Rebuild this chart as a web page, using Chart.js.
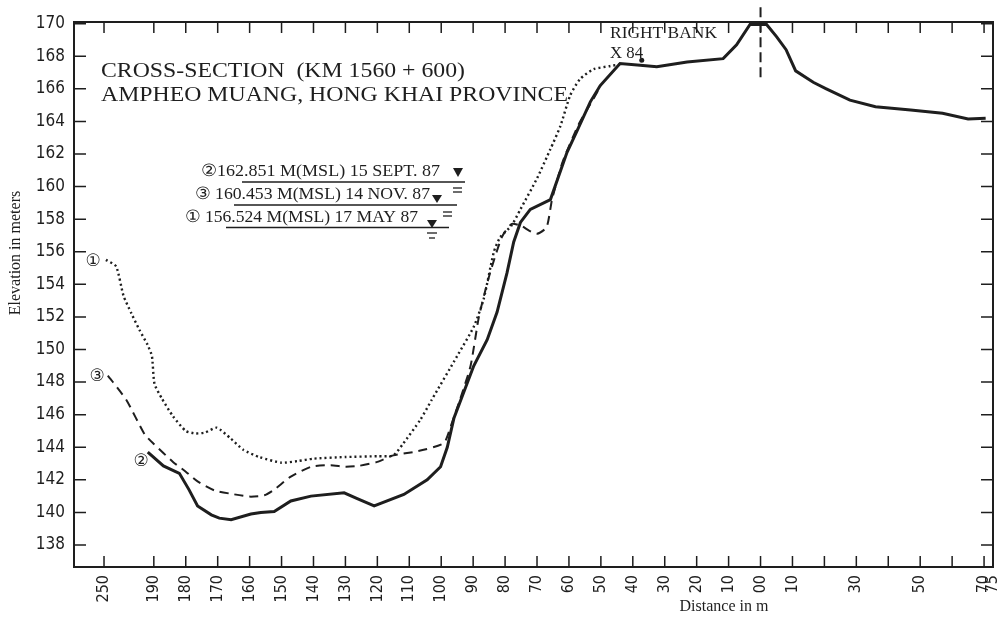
<!DOCTYPE html>
<html lang="en">
<head>
<meta charset="UTF-8">
<title>Cross-section KM 1560 + 600</title>
<script src="https://cdn.jsdelivr.net/npm/chart.js"></script>
<style>
  html, body { margin: 0; padding: 0; background: #fff; }
  #wrap { width: 1007px; height: 622px; }
</style>
</head>
<body>
<div id="wrap"><canvas id="myChart" width="1007" height="622"></canvas></div>
<script>
// distance coordinate: negative = left of the centre line (00), positive = right of it
// (the 250 m and 75 m stations sit squeezed at the ends, as on the original drawing)
const xTickPos    = [-205.6, -190, -180, -170, -160, -150, -140, -130, -120, -110, -100, -90, -80, -70, -60, -50, -40, -30, -20, -10, 0, 10, 20, 30, 40, 50, 60, 70, 72.8];
const xTickLabels = ['250','190','180','170','160','150','140','130','120','110','100','90','80','70','60','50','40','30','20','10','00','10','','30','','50','','70','75'];
const yTicks = [138, 140, 142, 144, 146, 148, 150, 152, 154, 156, 158, 160, 162, 164, 166, 168, 170];

// (1) 17 MAY 87 - dotted
const distMay = [-205, -201.8, -199.5, -197, -194.5, -192, -190.6, -189.8, -187.5, -184, -180, -177, -174, -170.3, -166, -162, -157, -150, -145, -140, -130, -120, -115, -112, -106.5, -103, -95, -89.8, -86.7, -83.5, -81.5, -78, -75.2, -70, -65.8, -62.7, -59.6, -56.5, -52.3, -47, -44];
const elevMay = [155.5, 155.1, 153.3, 152.2, 151.2, 150.3, 149.6, 147.9, 147.0, 145.9, 145.0, 144.85, 144.9, 145.2, 144.55, 143.85, 143.4, 143.05, 143.15, 143.3, 143.4, 143.45, 143.5, 144.2, 145.7, 146.9, 149.6, 151.4, 153.1, 156.0, 156.9, 157.6, 158.6, 160.5, 162.3, 163.7, 165.6, 166.6, 167.2, 167.4, 167.5];

// (3) 14 NOV 87 - dashed
const distNov = [-204.4, -198.6, -192.9, -190, -184, -180, -176.3, -171, -166, -160, -155.4, -152.3, -147.1, -140.8, -134.6, -130, -126, -120, -115, -107.5, -99.2, -97, -94, -90.8, -88.2, -85, -81, -78, -75, -72.5, -70, -67, -65.3, -62, -57, -52, -50];
const elevNov = [148.4, 146.9, 144.8, 144.2, 143.1, 142.5, 141.9, 141.35, 141.15, 140.97, 141.05, 141.4, 142.2, 142.8, 142.9, 142.8, 142.85, 143.1, 143.5, 143.75, 144.25, 145.3, 147.0, 149.0, 152.0, 154.5, 156.9, 157.7, 157.6, 157.3, 157.1, 157.5, 159.2, 161.5, 163.8, 165.5, 166.2];

// (2) 15 SEPT 87 - solid
const distSep = [-191.9, -187, -182, -179, -176.3, -172, -169.5, -165.8, -159.6, -156.5, -152.3, -147.1, -140.8, -130.4, -126.3, -121, -111.7, -104.4, -100.2, -98.1, -96, -89.8, -85.6, -82.5, -79.4, -77.3, -75.2, -72.1, -65.8, -60.6, -57.5, -53.3, -50.2, -44, -37.7, -32.5, -23, -11.7, -7.5, -3.3, 1.9, 5, 8, 11, 16.5, 20.6, 28, 36, 47, 57, 65, 70.5];
const elevSep = [143.7, 142.85, 142.4, 141.4, 140.4, 139.85, 139.65, 139.55, 139.9, 140.0, 140.05, 140.7, 141.0, 141.2, 140.85, 140.4, 141.1, 142.0, 142.8, 144.0, 145.8, 149.0, 150.6, 152.3, 154.7, 156.6, 157.8, 158.6, 159.2, 162.1, 163.4, 165.2, 166.2, 167.55, 167.45, 167.35, 167.65, 167.85, 168.7, 169.95, 169.95, 169.2, 168.4, 167.1, 166.4, 166.0, 165.3, 164.9, 164.7, 164.5, 164.15, 164.2];

// centre line and the X 84 bench mark
const centreDist = [0, 0];
const centreElev = [171.0, 166.6];
const markDist = [-37.2];
const markElev = [167.75];

const ink = '#1e1e1e';
const serif = "'Liberation Serif', 'DejaVu Serif', serif";
const narrow = "'Liberation Sans Narrow', 'DejaVu Sans Condensed', 'Liberation Sans', sans-serif";

function pts(xs, ys) { return xs.map((x, i) => ({ x: x, y: ys[i] })); }

// text squeezed/stretched to the width it has on the scan
function fitText(ctx, txt, x, y, w) {
  const m = ctx.measureText(txt).width;
  ctx.save();
  ctx.translate(x, y);
  ctx.scale(w / m, 1);
  ctx.fillText(txt, 0, 0);
  ctx.restore();
}

function tri(ctx, cx, top, bot, half) {
  ctx.beginPath();
  ctx.moveTo(cx - half, top);
  ctx.lineTo(cx + half, top);
  ctx.lineTo(cx, bot);
  ctx.closePath();
  ctx.fill();
}

function hline(ctx, x1, x2, y, w) {
  ctx.lineWidth = w;
  ctx.beginPath();
  ctx.moveTo(x1, y);
  ctx.lineTo(x2, y);
  ctx.stroke();
}

const framePlugin = {
  id: 'frame',
  afterDraw(chart) {
    const ctx = chart.ctx;
    const a = chart.chartArea;
    const xs = chart.scales.x, ys = chart.scales.y;
    ctx.save();
    ctx.strokeStyle = ink;
    ctx.fillStyle = ink;

    // box and inward ticks
    ctx.lineWidth = 2;
    ctx.strokeRect(a.left, a.top, a.right - a.left, a.bottom - a.top);
    ctx.lineWidth = 1.5;
    ctx.beginPath();
    xTickPos.forEach((v, i) => {
      if (i == xTickPos.length - 1) return;
      const px = xs.getPixelForValue(v);
      ctx.moveTo(px, a.bottom); ctx.lineTo(px, a.bottom - 11);
      ctx.moveTo(px, a.top); ctx.lineTo(px, a.top + 11);
    });
    yTicks.forEach(v => {
      const py = ys.getPixelForValue(v);
      ctx.moveTo(a.left, py); ctx.lineTo(a.left + 12, py);
      ctx.moveTo(a.right, py); ctx.lineTo(a.right - 12, py);
    });
    ctx.stroke();

    // axis titles
    ctx.font = '16px ' + serif;
    ctx.textAlign = 'center';
    ctx.textBaseline = 'middle';
    ctx.fillText('Distance in m', 724, 607);
    ctx.save();
    ctx.translate(16, 253);
    ctx.rotate(-Math.PI / 2);
    ctx.fillText('Elevation in meters', 0, 0);
    ctx.restore();

    // title
    ctx.textAlign = 'left';
    ctx.textBaseline = 'alphabetic';
    ctx.font = '22px ' + serif;
    fitText(ctx, 'CROSS-SECTION  (KM 1560 + 600)', 101, 77, 364);
    fitText(ctx, 'AMPHEO MUANG, HONG KHAI PROVINCE', 101, 101, 467);

    ctx.font = '16px ' + serif;
    fitText(ctx, 'RIGHT BANK', 610, 38, 107);
    fitText(ctx, 'X 84', 610, 58, 33);

    // water levels
    ctx.font = '17px ' + serif;
    fitText(ctx, '\u2461162.851 M(MSL) 15 SEPT. 87', 201, 176, 239);
    fitText(ctx, '\u2462 160.453 M(MSL) 14 NOV. 87', 195, 199, 235);
    fitText(ctx, '\u2460 156.524 M(MSL) 17 MAY 87', 185, 222, 233);
    hline(ctx, 242, 465, 182, 1.6);
    hline(ctx, 234, 457, 205, 1.6);
    hline(ctx, 226, 449, 227.5, 1.6);
    tri(ctx, 458, 168, 177, 5);
    tri(ctx, 437, 195, 203, 5);
    tri(ctx, 432, 220, 228, 5);
    hline(ctx, 453, 462, 188, 1.3);
    hline(ctx, 453, 462, 192, 1.3);
    hline(ctx, 443, 452, 212, 1.3);
    hline(ctx, 443, 452, 216, 1.3);
    hline(ctx, 427, 437, 233, 1.3);
    hline(ctx, 429, 435, 238, 1.3);

    // circled curve labels
    ctx.font = '17px ' + "'DejaVu Sans', sans-serif";
    ctx.textAlign = 'center';
    ctx.textBaseline = 'middle';
    ctx.fillText('\u2460', 93, 262);
    ctx.fillText('\u2462', 97, 377);
    ctx.fillText('\u2461', 141, 462);
    ctx.restore();
  }
};

new Chart(document.getElementById('myChart'), {
  type: 'line',
  data: {
    datasets: [
      {
        label: '15 SEPT. 87',
        data: pts(distSep, elevSep),
        borderColor: ink,
        borderWidth: 3,
        pointRadius: 0,
        tension: 0
      },
      {
        label: '14 NOV. 87',
        data: pts(distNov, elevNov),
        borderColor: ink,
        borderWidth: 2,
        borderDash: [9, 6],
        pointRadius: 0,
        tension: 0.2
      },
      {
        label: '17 MAY 87',
        data: pts(distMay, elevMay),
        borderColor: ink,
        borderWidth: 2.4,
        borderDash: [2, 3],
        pointRadius: 0,
        tension: 0.2
      },
      {
        label: 'centre line',
        data: pts(centreDist, centreElev),
        borderColor: ink,
        borderWidth: 2,
        borderDash: [10, 5],
        pointRadius: 0,
        clip: false
      },
      {
        label: 'X 84',
        data: pts(markDist, markElev),
        showLine: false,
        pointRadius: 2.5,
        pointBackgroundColor: ink,
        pointBorderWidth: 0
      }
    ]
  },
  options: {
    responsive: false,
    devicePixelRatio: 1,
    animation: false,
    layout: { padding: { top: 22, right: 14, left: 0, bottom: 0 } },
    plugins: {
      legend: { display: false },
      tooltip: { enabled: false }
    },
    scales: {
      x: {
        type: 'linear',
        min: -215,
        max: 72.8,
        grid: { display: false, drawTicks: false },
        border: { display: false },
        afterBuildTicks: s => { s.ticks = xTickPos.map(v => ({ value: v })); },
        afterFit: s => { s.height = 55; s.paddingLeft = 0; s.paddingRight = 0; },
        ticks: {
          autoSkip: false,
          minRotation: 90,
          maxRotation: 90,
          padding: 8,
          color: ink,
          font: { family: narrow, size: 16 },
          callback: (v, i) => xTickLabels[i]
        }
      },
      y: {
        min: 136.65,
        max: 170.1,
        grid: { display: false, drawTicks: false },
        border: { display: false },
        afterBuildTicks: s => { s.ticks = yTicks.map(v => ({ value: v })); },
        afterFit: s => { s.width = 74; s.paddingTop = 0; s.paddingBottom = 0; },
        ticks: {
          padding: 9,
          color: ink,
          font: { family: narrow, size: 17 },
          callback: v => String(v)
        }
      }
    }
  },
  plugins: [framePlugin]
});
</script>
</body>
</html>
